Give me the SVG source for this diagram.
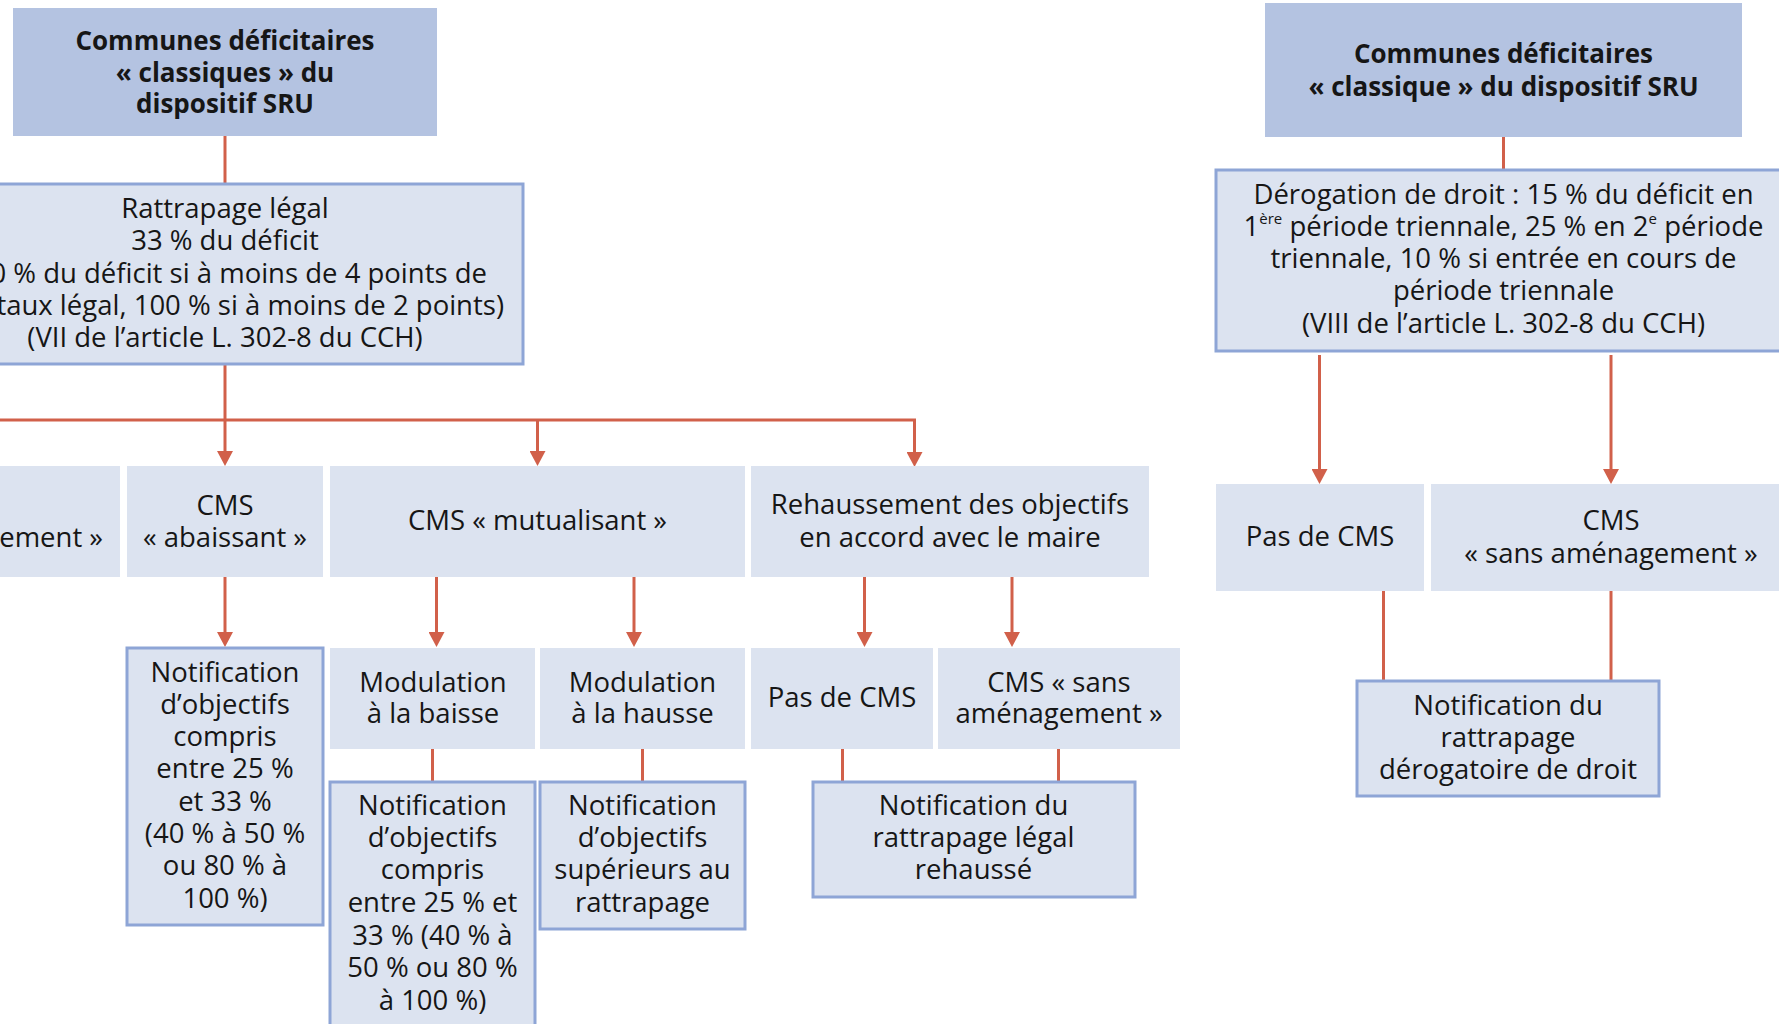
<svg xmlns="http://www.w3.org/2000/svg" width="1779" height="1024" viewBox="0 0 1779 1024">
<style>
.t{font-family:"Open Sans","Liberation Sans",sans-serif;font-size:27.5px;font-weight:500;fill:#161616;text-anchor:middle}
.b{font-weight:700;font-size:26px}
.e{text-anchor:end}
.head{fill:#b4c3e1}
.box{fill:#dce3f0}
.bbox{fill:#dce3f0;stroke:#8ea5d6;stroke-width:3}
.c{stroke:#d1604a;stroke-width:3;fill:none}
.a{marker-end:url(#arr)}
</style>
<defs>
<marker id="arr" markerUnits="userSpaceOnUse" markerWidth="16" markerHeight="16" refX="0" refY="8" orient="auto" viewBox="0 0 16 16">
<path d="M0,0 L15,8 L0,16 z" fill="#d1604a"/>
</marker>
</defs>
<rect width="1779" height="1024" fill="#ffffff"/>

<g id="connectors">
<line class="c" x1="225" y1="136" x2="225" y2="184"/>
<line class="c" x1="225" y1="359" x2="225" y2="420"/>
<path class="c" d="M-10,420 H914.5 V452"/>
<line class="c a" x1="914.5" y1="440" x2="914.5" y2="452"/>
<line class="c a" x1="225" y1="420" x2="225" y2="451"/>
<line class="c a" x1="537.5" y1="420" x2="537.5" y2="451"/>
<line class="c a" x1="225" y1="577" x2="225" y2="632"/>
<line class="c a" x1="436.5" y1="577" x2="436.5" y2="632"/>
<line class="c a" x1="634" y1="577" x2="634" y2="632"/>
<line class="c a" x1="864.5" y1="577" x2="864.5" y2="632"/>
<line class="c a" x1="1012" y1="577" x2="1012" y2="632"/>
<line class="c" x1="432.5" y1="749" x2="432.5" y2="782"/>
<line class="c" x1="642.5" y1="749" x2="642.5" y2="782"/>
<line class="c" x1="842.5" y1="749" x2="842.5" y2="782"/>
<line class="c" x1="1058.5" y1="749" x2="1058.5" y2="782"/>
<line class="c" x1="1503.5" y1="137" x2="1503.5" y2="170"/>
<line class="c a" x1="1319.5" y1="355" x2="1319.5" y2="469"/>
<line class="c a" x1="1611" y1="355" x2="1611" y2="469"/>
<line class="c" x1="1383.5" y1="591" x2="1383.5" y2="681"/>
<line class="c" x1="1611" y1="591" x2="1611" y2="681"/>
</g>

<g id="n-top-left">
<rect class="head" x="13" y="8" width="424" height="128"/>
<text class="t b" x="225" y="50">Communes déficitaires</text>
<text class="t b" x="225" y="82">« classiques » du</text>
<text class="t b" x="225" y="113">dispositif SRU</text>
</g>

<g id="n-rattrapage">
<rect class="bbox" x="-10" y="184" width="533" height="180"/>
<text class="t" x="225" y="218">Rattrapage légal</text>
<text class="t" x="225" y="250">33 % du déficit</text>
<text class="t e" x="487" y="283">0 % du déficit si à moins de 4 points de</text>
<text class="t e" x="504" y="315">taux légal, 100 % si à moins de 2 points)</text>
<text class="t" x="225" y="347">(VII de l’article L. 302-8 du CCH)</text>
</g>

<g id="n-sans-amenagement-left">
<rect class="box" x="-10" y="466" width="130" height="111"/>
<text class="t e" x="103" y="547">ement »</text>
</g>

<g id="n-abaissant">
<rect class="box" x="127" y="466" width="196" height="111"/>
<text class="t" x="225" y="515">CMS</text>
<text class="t" x="225" y="547">« abaissant »</text>
</g>

<g id="n-mutualisant">
<rect class="box" x="330" y="466" width="415" height="111"/>
<text class="t" x="537.5" y="530">CMS « mutualisant »</text>
</g>

<g id="n-rehaussement">
<rect class="box" x="751" y="466" width="398" height="111"/>
<text class="t" x="950" y="514">Rehaussement des objectifs</text>
<text class="t" x="950" y="547">en accord avec le maire</text>
</g>

<g id="n-notif-abaissant">
<rect class="bbox" x="127" y="648" width="196" height="277"/>
<text class="t" x="225" y="682">Notification</text>
<text class="t" x="225" y="714">d’objectifs</text>
<text class="t" x="225" y="746">compris</text>
<text class="t" x="225" y="778">entre 25 %</text>
<text class="t" x="225" y="811">et 33 %</text>
<text class="t" x="225" y="843">(40 % à 50 %</text>
<text class="t" x="225" y="875">ou 80 % à</text>
<text class="t" x="225" y="908">100 %)</text>
</g>

<g id="n-mod-baisse">
<rect class="box" x="330" y="648" width="205" height="101"/>
<text class="t" x="433" y="692">Modulation</text>
<text class="t" x="433" y="723">à la baisse</text>
</g>

<g id="n-mod-hausse">
<rect class="box" x="540" y="648" width="205" height="101"/>
<text class="t" x="642.5" y="692">Modulation</text>
<text class="t" x="642.5" y="723">à la hausse</text>
</g>

<g id="n-pas-cms">
<rect class="box" x="751" y="648" width="182" height="101"/>
<text class="t" x="842" y="707">Pas de CMS</text>
</g>

<g id="n-cms-sans">
<rect class="box" x="938" y="648" width="242" height="101"/>
<text class="t" x="1059" y="692">CMS « sans</text>
<text class="t" x="1059" y="723">aménagement »</text>
</g>

<g id="n-notif-baisse">
<rect class="bbox" x="330" y="782" width="205" height="262"/>
<text class="t" x="432.5" y="815">Notification</text>
<text class="t" x="432.5" y="847">d’objectifs</text>
<text class="t" x="432.5" y="879">compris</text>
<text class="t" x="432.5" y="912">entre 25 % et</text>
<text class="t" x="432.5" y="945">33 % (40 % à</text>
<text class="t" x="432.5" y="977">50 % ou 80 %</text>
<text class="t" x="432.5" y="1010">à 100 %)</text>
</g>

<g id="n-notif-sup">
<rect class="bbox" x="540" y="782" width="205" height="147"/>
<text class="t" x="642.5" y="815">Notification</text>
<text class="t" x="642.5" y="847">d’objectifs</text>
<text class="t" x="642.5" y="879">supérieurs au</text>
<text class="t" x="642.5" y="912">rattrapage</text>
</g>

<g id="n-notif-rehausse">
<rect class="bbox" x="813" y="782" width="322" height="115"/>
<text class="t" x="973.5" y="815">Notification du</text>
<text class="t" x="973.5" y="847">rattrapage légal</text>
<text class="t" x="973.5" y="879">rehaussé</text>
</g>

<g id="n-top-right">
<rect class="head" x="1265" y="3" width="477" height="134"/>
<text class="t b" x="1503.5" y="63">Communes déficitaires</text>
<text class="t b" x="1503.5" y="96">« classique » du dispositif SRU</text>
</g>

<g id="n-derogation">
<rect class="bbox" x="1216" y="170" width="580" height="181"/>
<text class="t" x="1503.5" y="204">Dérogation de droit : 15 % du déficit en</text>
<text class="t" x="1503.5" y="236">1<tspan font-size="15" dy="-12">ère</tspan><tspan dy="12"> période triennale, 25 % en 2</tspan><tspan font-size="15" dy="-12">e</tspan><tspan dy="12"> période</tspan></text>
<text class="t" x="1503.5" y="268">triennale, 10 % si entrée en cours de</text>
<text class="t" x="1503.5" y="300">période triennale</text>
<text class="t" x="1503.5" y="333">(VIII de l’article L. 302-8 du CCH)</text>
</g>

<g id="n-pas-cms-right">
<rect class="box" x="1216" y="484" width="208" height="107"/>
<text class="t" x="1320" y="546">Pas de CMS</text>
</g>

<g id="n-cms-sans-right">
<rect class="box" x="1431" y="484" width="360" height="107"/>
<text class="t" x="1611" y="530">CMS</text>
<text class="t" x="1611" y="563">« sans aménagement »</text>
</g>

<g id="n-notif-derog">
<rect class="bbox" x="1357" y="681" width="302" height="115"/>
<text class="t" x="1508" y="715">Notification du</text>
<text class="t" x="1508" y="747">rattrapage</text>
<text class="t" x="1508" y="779">dérogatoire de droit</text>
</g>
</svg>
